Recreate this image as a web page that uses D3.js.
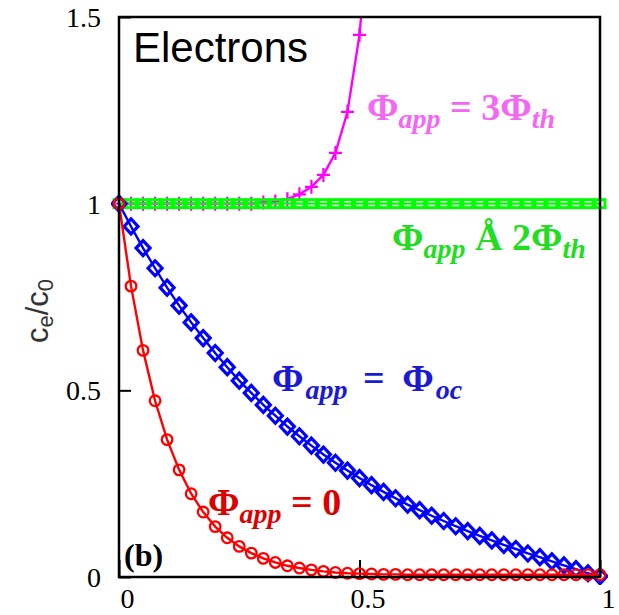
<!DOCTYPE html>
<html>
<head>
<meta charset="utf-8">
<script src="https://cdn.jsdelivr.net/npm/d3@7"></script>
<style>
  html, body { margin: 0; padding: 0; background: #fff; }
  svg { display: block; }
</style>
</head>
<body>
<svg id="chart" width="619" height="615"></svg>
<script>
// Normalised position along the cell (sampled every 0.025)
const positions = d3.range(41).map(i => +(i * 0.025).toFixed(3));

// Normalised electron concentration c_e/c_0 for each applied potential
const zeroPotential = [
  1, 0.779, 0.607, 0.472, 0.368, 0.287, 0.223, 0.174, 0.135, 0.105,
  0.082, 0.064, 0.050, 0.039, 0.030, 0.024, 0.019, 0.015, 0.012, 0.010,
  0.009, 0.008, 0.007, 0.007, 0.006, 0.006, 0.006, 0.006, 0.006, 0.006,
  0.006, 0.006, 0.006, 0.006, 0.006, 0.006, 0.006, 0.006, 0.006, 0.006, 0.006
];
const openCircuit = [
  1, 0.939, 0.881, 0.827, 0.775, 0.727, 0.682, 0.640, 0.600, 0.562,
  0.526, 0.493, 0.461, 0.432, 0.403, 0.377, 0.352, 0.328, 0.306, 0.285,
  0.265, 0.246, 0.228, 0.211, 0.194, 0.179, 0.164, 0.150, 0.136, 0.123,
  0.110, 0.098, 0.086, 0.075, 0.063, 0.053, 0.042, 0.031, 0.021, 0.010, 0.002
];
const twiceThreshold = [
  1, 1, 1, 1, 1, 1, 1, 1, 1, 1,
  1, 1, 1, 1, 1, 1, 1, 1, 1, 1,
  1, 1, 1, 1, 1, 1, 1, 1, 1, 1,
  1, 1, 1, 1, 1, 1, 1, 1, 1, 1, 1
];
const thriceThreshold = [
  1, 1, 1, 1, 1, 1, 1, 1, 1, 1,
  1, 1, 1.003, 1.006, 1.012, 1.025, 1.045, 1.077, 1.136, 1.246,
  1.452, 1.82
];

const xTicks = [0, 0.5, 1];
const yTicks = [0, 0.5, 1, 1.5];
const xTickLabels = ["0", "0.5", "1"];
const yTickLabels = ["0", "0.5", "1", "1.5"];

const svg = d3.select("#chart");
const plot = { left: 119, right: 600, top: 17, bottom: 577 };

const x = d3.scaleLinear().domain([0, 1]).range([plot.left, plot.right]);
const y = d3.scaleLinear().domain([0, 1.5]).range([plot.bottom, plot.top]);

svg.append("defs").append("clipPath").attr("id", "plot-clip")
  .append("rect")
  .attr("x", plot.left - 8).attr("y", plot.top)
  .attr("width", plot.right - plot.left + 16)
  .attr("height", plot.bottom - plot.top + 8);

// Axes: inward ticks, serif tick labels
const serif = "'Liberation Serif', 'DejaVu Serif', serif";

const yAxis = d3.axisLeft(y)
  .tickValues(yTicks)
  .tickFormat((d, i) => yTickLabels[i])
  .tickSize(-12)
  .tickPadding(18);
const gy = svg.append("g").attr("transform", `translate(${plot.left},0)`).call(yAxis);

const xAxis = d3.axisBottom(x)
  .tickValues(xTicks)
  .tickFormat((d, i) => xTickLabels[i])
  .tickSize(-17)
  .tickPadding(11);
const gx = svg.append("g").attr("transform", `translate(0,${plot.bottom})`).call(xAxis);

[gx, gy].forEach(g => {
  g.attr("font-family", null).attr("font-size", null);
  g.select(".domain").remove();
  g.selectAll(".tick line").attr("stroke", "#000").attr("stroke-width", 2);
  g.selectAll(".tick text")
    .style("font-family", serif)
    .style("font-size", "28px")
    .attr("fill", "#000");
});
gx.selectAll(".tick text").attr("dx", 8);
gy.selectAll(".tick text").attr("dy", "0.34em");

// Series
const series = [
  { values: thriceThreshold, color: "#ff00ff", marker: "plus" },
  { values: twiceThreshold, color: "#00ff00", marker: "square" },
  { values: openCircuit, color: "#0000ff", marker: "diamond" },
  { values: zeroPotential, color: "#ff0000", marker: "circle" }
];

const line = d3.line().x(d => x(d[0])).y(d => y(d[1]));
const plotG = svg.append("g").attr("clip-path", "url(#plot-clip)");

series.forEach(s => {
  const pts = s.values.map((v, i) => [positions[i], v]);
  const g = plotG.append("g");
  g.append("path")
    .attr("d", line(pts))
    .attr("fill", "none")
    .attr("stroke", s.color)
    .attr("stroke-width", 2.4);

  const m = g.selectAll(".m").data(pts).enter();
  if (s.marker === "circle") {
    m.append("circle")
      .attr("cx", d => x(d[0])).attr("cy", d => y(d[1])).attr("r", 5.3)
      .attr("fill", "none").attr("stroke", s.color).attr("stroke-width", 2.3);
  } else if (s.marker === "diamond") {
    m.append("path")
      .attr("d", d => {
        const cx = x(d[0]), cy = y(d[1]);
        return `M${cx},${cy - 7.5}L${cx + 7},${cy}L${cx},${cy + 7.5}L${cx - 7},${cy}Z`;
      })
      .attr("fill", "none").attr("stroke", s.color).attr("stroke-width", 3.2);
  } else if (s.marker === "square") {
    m.append("rect")
      .attr("x", d => x(d[0]) - 5).attr("y", d => y(d[1]) - 4)
      .attr("width", 10).attr("height", 8)
      .attr("fill", "none").attr("stroke", s.color).attr("stroke-width", 3);
  } else if (s.marker === "plus") {
    m.append("path")
      .attr("d", d => {
        const cx = x(d[0]), cy = y(d[1]);
        return `M${cx - 6.5},${cy}H${cx + 6.5}M${cx},${cy - 7}V${cy + 7}`;
      })
      .attr("fill", "none").attr("stroke", s.color).attr("stroke-width", 2.2);
  }
});

// Frame
svg.append("rect")
  .attr("x", plot.left).attr("y", plot.top)
  .attr("width", plot.right - plot.left).attr("height", plot.bottom - plot.top)
  .attr("fill", "none").attr("stroke", "#000").attr("stroke-width", 2.5);

// Panel text
svg.append("text")
  .attr("x", 133).attr("y", 62)
  .style("font-family", "'Liberation Sans', Arial, sans-serif")
  .style("font-size", "42px").attr("fill", "#000")
  .text("Electrons");

svg.append("text")
  .attr("x", 124).attr("y", 566)
  .style("font-family", serif).style("font-weight", "bold")
  .style("font-size", "32px").attr("fill", "#000")
  .text("(b)");

// Y-axis title c_e/c_0
const yt = svg.append("text")
  .attr("transform", "translate(48,311) rotate(-90)")
  .attr("text-anchor", "middle")
  .style("font-family", "'Liberation Sans', Arial, sans-serif")
  .style("font-size", "31px").attr("fill", "#333");
yt.append("tspan").text("c");
yt.append("tspan").style("font-size", "22px").attr("dy", 5).text("e");
yt.append("tspan").attr("dy", -5).text("/c");
yt.append("tspan").style("font-size", "22px").attr("dy", 5).text("0");

// Curve labels
function curveLabel(xp, yp, color, parts) {
  const t = svg.append("text")
    .attr("x", xp).attr("y", yp)
    .style("font-family", serif).style("font-weight", "bold")
    .style("font-size", "38px").attr("fill", color);
  parts.forEach(p => {
    const ts = t.append("tspan").text(p.text);
    if (p.sub) {
      ts.style("font-size", "28px").style("font-style", "italic").attr("dy", 8);
    } else if (p.after) {
      ts.attr("dy", -8);
    }
    if (p.dx) ts.attr("dx", p.dx);
  });
}

curveLabel(367, 120, "#f466f4", [
  { text: "Φ" }, { text: "app", sub: true }, { text: " = 3Φ", after: true }, { text: "th", sub: true }
]);
curveLabel(392, 250, "#22dd22", [
  { text: "Φ" }, { text: "app", sub: true }, { text: " Å 2Φ", after: true }, { text: "th", sub: true }
]);
curveLabel(272, 391, "#1a1ad6", [
  { text: "Φ" }, { text: "app", sub: true, dx: 2 }, { text: " = ", after: true, dx: 6 }, { text: "Φ", dx: 8 }, { text: "oc", sub: true, dx: 2 }
]);
curveLabel(208, 515, "#dd0000", [
  { text: "Φ" }, { text: "app", sub: true }, { text: " = 0", after: true }
]);
</script>
</body>
</html>
